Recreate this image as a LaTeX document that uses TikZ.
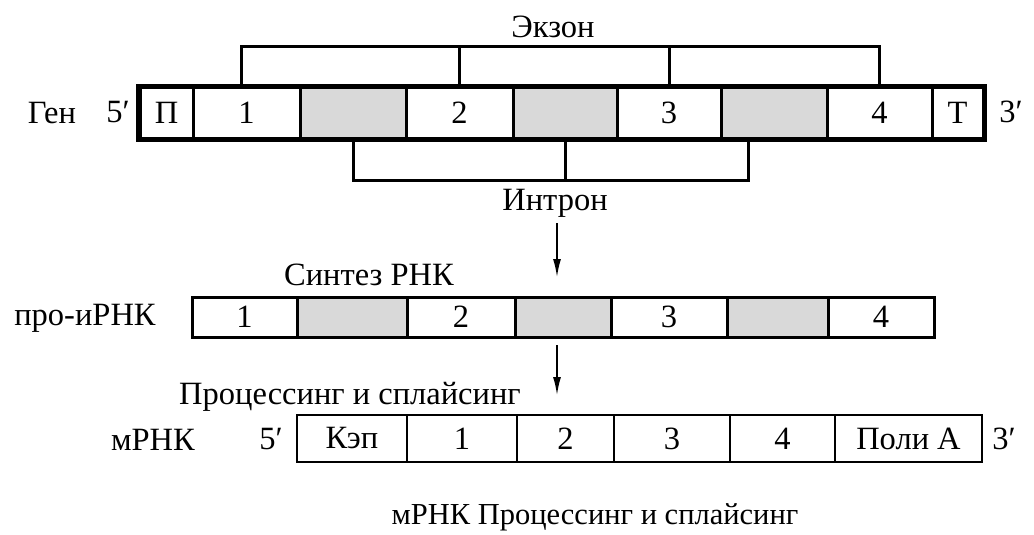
\documentclass[tikz,border=0pt]{standalone}
\usepackage{fontspec}
\setmainfont{Liberation Serif}
\usetikzlibrary{arrows.meta,calc}
\tikzset{
  lbl/.style={inner sep=0pt, font=\fontsize{32.5}{38}\selectfont},
  cellbox/.style={draw, inner sep=0pt, anchor=center, font=\fontsize{32.5}{38}\selectfont},
  intr/.style={fill=gray!30},
  brk/.style={line width=3pt, line cap=rect},
  arr/.style={line width=1.5pt, -{Latex[length=18pt,width=8pt]}},
}
\newcommand{\mkcell}[8]{% name, x1, x2, y1, y2, linewidth, extra style, text
  \node[cellbox, line width=#6, minimum width={(#3-#2)*1pt}, minimum height={(#5-#4)*1pt}, #7]
    (#1) at ({(#2+#3)/2},{(#4+#5)/2}) {#8};}
\begin{document}
\begin{tikzpicture}[x=1pt,y=-1pt]
\useasboundingbox (0,0) rectangle (1034,535);
% ---- Gene ----
\mkcell{gp}{140}{193}{88}{138}{3pt}{}{П}
\mkcell{ge1}{193}{300}{88}{138}{3pt}{}{1}
\mkcell{gi1}{300}{406}{88}{138}{3pt}{intr}{}
\mkcell{ge2}{406}{513}{88}{138}{3pt}{}{2}
\mkcell{gi2}{513}{617}{88}{138}{3pt}{intr}{}
\mkcell{ge3}{617}{721}{88}{138}{3pt}{}{3}
\mkcell{gi3}{721}{827}{88}{138}{3pt}{intr}{}
\mkcell{ge4}{827}{932}{88}{138}{3pt}{}{4}
\mkcell{gt}{932}{983}{88}{138}{3pt}{}{Т}
\draw[line width=4.5pt] (gp.north west) rectangle (gt.south east);
\node[lbl] (gen) at (52,113) {Ген};
\node[lbl] (g5) at (118,112) {5′};
\node[lbl] (g3) at (1011,112) {3′};
% exon bracket
\coordinate (ex1) at ($(ge1.north)+(-5,-40)$);
\coordinate (ex4) at ($(ge4.north)+(0,-40)$);
\draw[brk] (ge1.north -| ex1) -- (ex1) -- (ex4) -- (ge4.north);
\draw[brk] (ge2.north) -- (ge2.north |- ex1);
\draw[brk] (ge3.north) -- (ge3.north |- ex1);
\node[lbl] (exon) at (553,27) {Экзон};
% intron bracket
\coordinate (in1) at ($(gi1.south)+(0,41)$);
\coordinate (in3b) at ($(gi3.south west)!0.27!(gi3.south east)$);
\coordinate (in3) at (in3b |- in1);
\draw[brk] (gi1.south) -- (in1) -- (in3) -- (in3b);
\draw[brk] (gi2.south) -- (gi2.south |- in1);
\node[lbl] (intron) at (555,203) {Интрон};
% ---- pro-mRNA ----
\coordinate (a1s) at (557,223);
\coordinate (a1e) at (557,277);
\draw[arr] (a1s) -- (a1e);
\node[lbl] (synth) at (369,275) {Синтез РНК};
\mkcell{pe1}{192}{297}{297}{337}{3pt}{}{1}
\mkcell{pi1}{297}{407}{297}{337}{3pt}{intr}{}
\mkcell{pe2}{407}{515}{297}{337}{3pt}{}{2}
\mkcell{pi2}{515}{611}{297}{337}{3pt}{intr}{}
\mkcell{pe3}{611}{727}{297}{337}{3pt}{}{3}
\mkcell{pi3}{727}{828}{297}{337}{3pt}{intr}{}
\mkcell{pe4}{828}{934}{297}{337}{3pt}{}{4}
\node[lbl] (pro) at (85,318) {про-иРНК};
% ---- mRNA ----
\coordinate (a2s) at (557,345);
\coordinate (a2e) at (557,395);
\draw[arr] (a2s) -- (a2e);
\node[lbl] (proc) at (350,397) {Процессинг и сплайсинг};
\mkcell{mc}{297}{407}{415}{462}{2.5pt}{}{Кэп}
\mkcell{m1}{407}{517}{415}{462}{2.5pt}{}{1}
\mkcell{m2}{517}{614}{415}{462}{2.5pt}{}{2}
\mkcell{m3}{614}{730}{415}{462}{2.5pt}{}{3}
\mkcell{m4}{730}{835}{415}{462}{2.5pt}{}{4}
\mkcell{mp}{835}{982}{415}{462}{2.5pt}{}{Поли А}
\node[lbl] (mrna) at (153,440) {мРНК};
\node[lbl] (m5) at (271,439) {5′};
\node[lbl] (m3p) at (1004,439) {3′};
\node[lbl, font=\fontsize{30.5}{36}\selectfont] (caption) at (595,517) {мРНК Процессинг и сплайсинг};
\end{tikzpicture}
\end{document}
